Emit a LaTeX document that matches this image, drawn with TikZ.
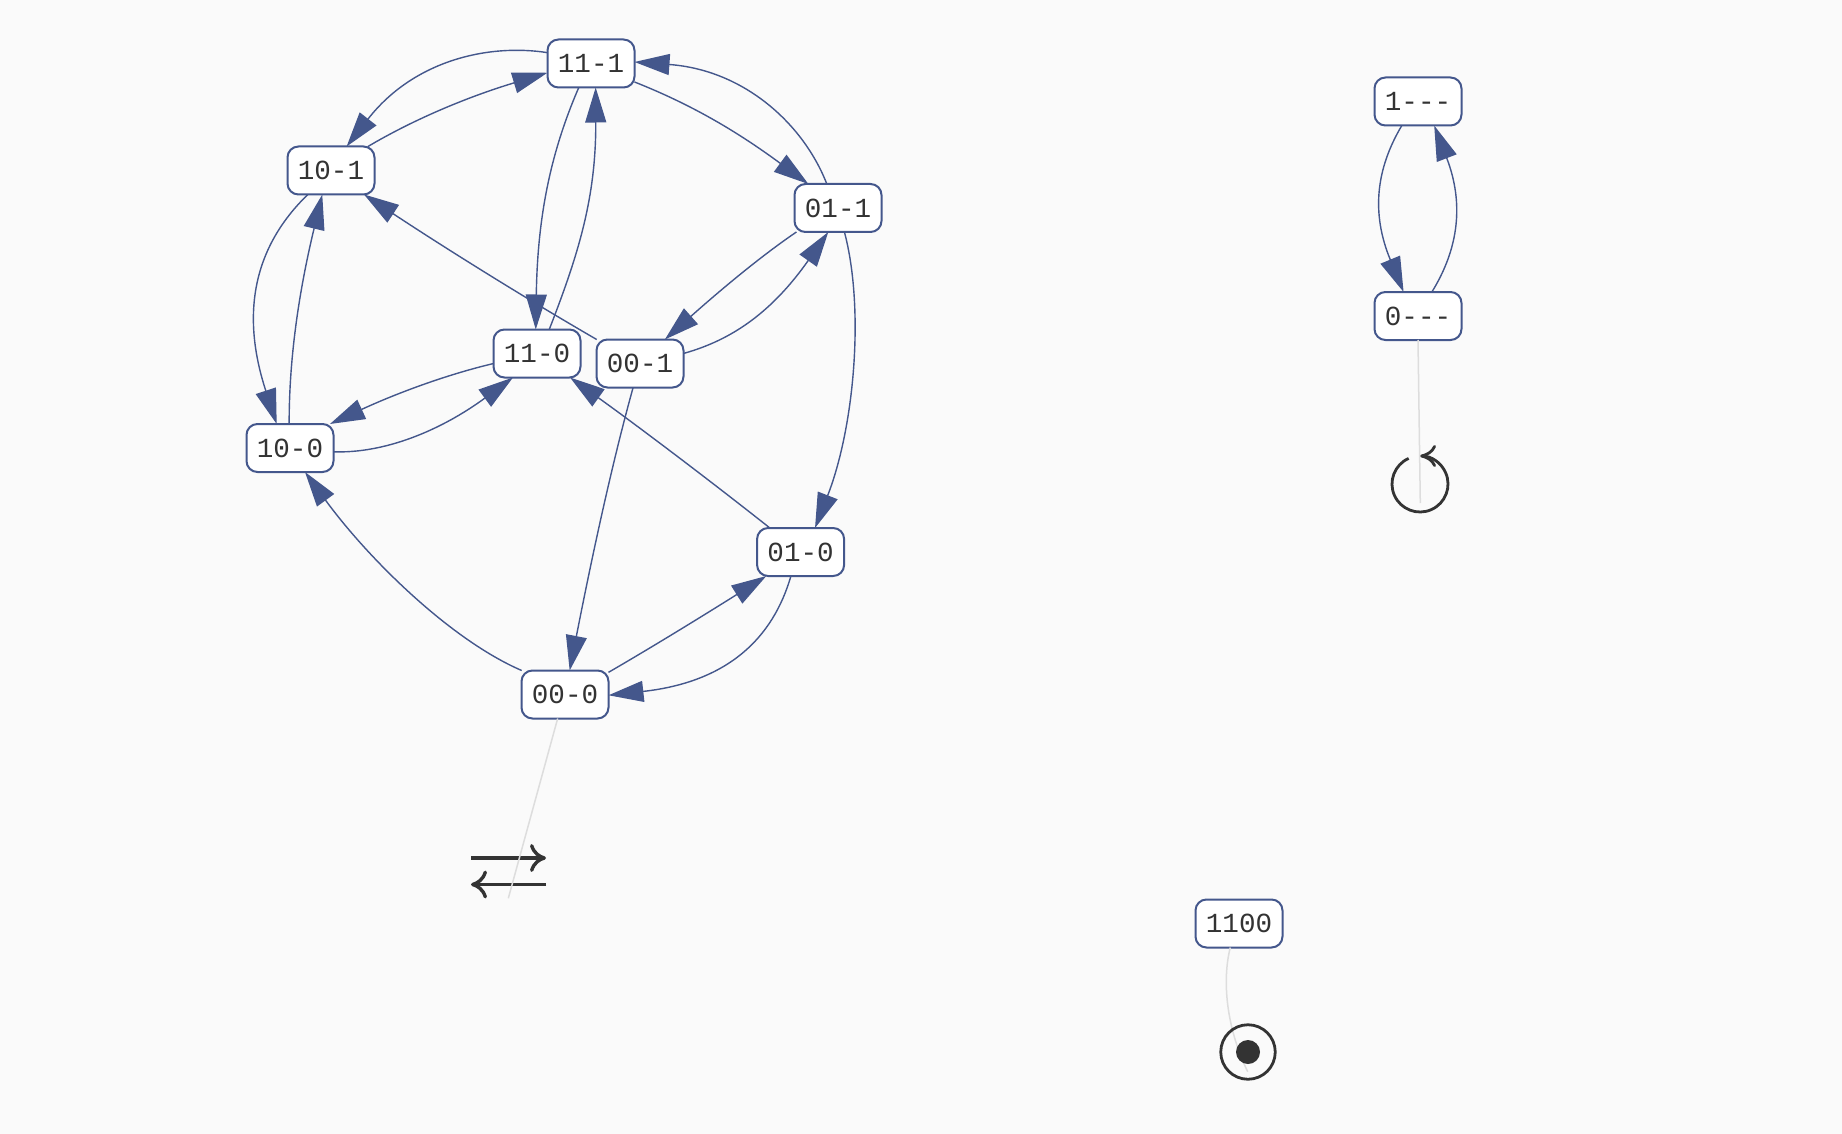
\documentclass[tikz,border=0pt]{standalone}
\usepackage{fontspec}
\setmonofont{Liberation Mono}
\usetikzlibrary{arrows.meta}
\definecolor{edgeblue}{HTML}{44578C}
\definecolor{inkgray}{HTML}{333333}
\definecolor{pagegray}{HTML}{FAFAFA}
\definecolor{faintgray}{HTML}{DDDDDD}
\tikzset{
  state/.style={draw=edgeblue,fill=white,line width=2pt,rounded corners=11pt,minimum width=87pt,minimum height=48pt,inner sep=0pt,outer sep=0pt,text=inkgray,font=\ttfamily\fontsize{27.6}{28}\selectfont},
  edge/.style={draw=edgeblue,line width=1.4pt,-{Triangle[length=35pt,width=21pt,fill=edgeblue]}},
  faint/.style={draw=faintgray,line width=1.5pt},
  icon/.style={draw=inkgray,line width=3.4pt},
  icontip/.style={-{Computer Modern Rightarrow[length=16pt,width=28pt]}},
  looptip/.style={-{Computer Modern Rightarrow[length=16pt,width=22pt]}}
}
\begin{document}
\begin{tikzpicture}[x=1pt,y=-1pt]
\useasboundingbox (0,0) rectangle (1842,1134);
\fill[pagegray] (0,0) rectangle (1842,1134);

\node[state] (n111) at (591,63.5) {11-1};
\node[state] (n101) at (331,170.5) {10-1};
\node[state] (n110) at (537,353.5) {11-0};
\node[state] (n001) at (640,363.5) {00-1};
\node[state] (n100) at (290,448) {10-0};
\node[state] (n011) at (838,208) {01-1};
\node[state] (n010) at (800.6,552) {01-0};
\node[state] (n000) at (565,694.5) {00-0};
\node[state] (top1) at (1418,101.5) {1---};
\node[state] (top0) at (1418,316) {0---};
\node[state] (n1100) at (1239,923.5) {1100};

% big component
\draw[edge] (n111.166.6) .. controls (489,43.5) and (414,60) .. (n101.57);
\draw[edge] (n101.33.5) .. controls (411,121) and (464,98) .. (n111.192);
\draw[edge] (n111.243.5) .. controls (550,154) and (537.5,218) .. (n110.93);
\draw[edge] (n110.63) .. controls (579,253) and (596,197) .. (n111.281);
\draw[edge] (n001.151) .. controls (525,298) and (445,248) .. (n101.324);
\draw[edge] (n011.115) .. controls (804,125) and (745,70) .. (n111.2);
\draw[edge] (n111.337) .. controls (690,104) and (735,130) .. (n011.141);
\draw[edge] (n011.210) .. controls (764,254) and (725,286) .. (n001.44);
\draw[edge] (n001.13.5) .. controls (732,340) and (772,312) .. (n011.248.7);
\draw[edge] (n011.285) .. controls (865,310) and (854,428) .. (n010.59.7);
\draw[edge] (n010.142) .. controls (708,479) and (635,424) .. (n110.324);
\draw[edge] (n001.254.9) .. controls (611,467) and (590.6,563.5) .. (n000.79.3);
\draw[edge] (n010.248) .. controls (773,638) and (728,682) .. (n000.359);
\draw[edge] (n000.27.7) .. controls (646,650.6) and (692.4,622.4) .. (n010.215.6);
\draw[edge] (n000.151.7) .. controls (450,639.6) and (367.7,558) .. (n100.302);
\draw[edge] (n100.92) .. controls (289,359.5) and (298.6,292.8) .. (n101.250);
\draw[edge] (n101.226.7) .. controls (244.4,256) and (245.3,328.2) .. (n100.119);
\draw[edge] (n110.193) .. controls (450.6,373.6) and (400.5,391.5) .. (n100.31);
\draw[edge] (n100.355) .. controls (384,453.6) and (440,431) .. (n110.225);

\draw[edge] (top1.236) .. controls (1376,169) and (1371,213) .. (top0.121);
\draw[edge] (top0.60) .. controls (1459,248) and (1464,203) .. (top1.304);

% swap icon
\coordinate (swapend) at (508.3,898.3);
\draw[icon,icontip] (471,858) -- (546,858);
\draw[icon,icontip] (546,884.5) -- (471,884.5);
\draw[faint] (n000.253.6) -- (swapend);

% loop icon
\coordinate (loopc) at (1420,484);
\coordinate (loopend) at (1420.3,503);
\draw[icon,line width=2.8pt,looptip] ([shift={(-114:28)}]loopc) arc[start angle=-114,end angle=-450,radius=28];
\draw[faint] (top0.270) -- (loopend);

% sink icon
\coordinate (ringc) at (1248,1052);
\coordinate (ringend) at (1247.7,1071.7);
\draw[faint] (n1100.250) .. controls (1222,980) and (1226,1027) .. (ringend);
\node[circle,draw=inkgray,line width=2.8pt,minimum size=54.5pt,inner sep=0pt] (ring) at (ringc) {};
\node[circle,fill=inkgray,minimum size=24pt,inner sep=0pt] (dot) at (ringc) {};
\end{tikzpicture}
\end{document}
